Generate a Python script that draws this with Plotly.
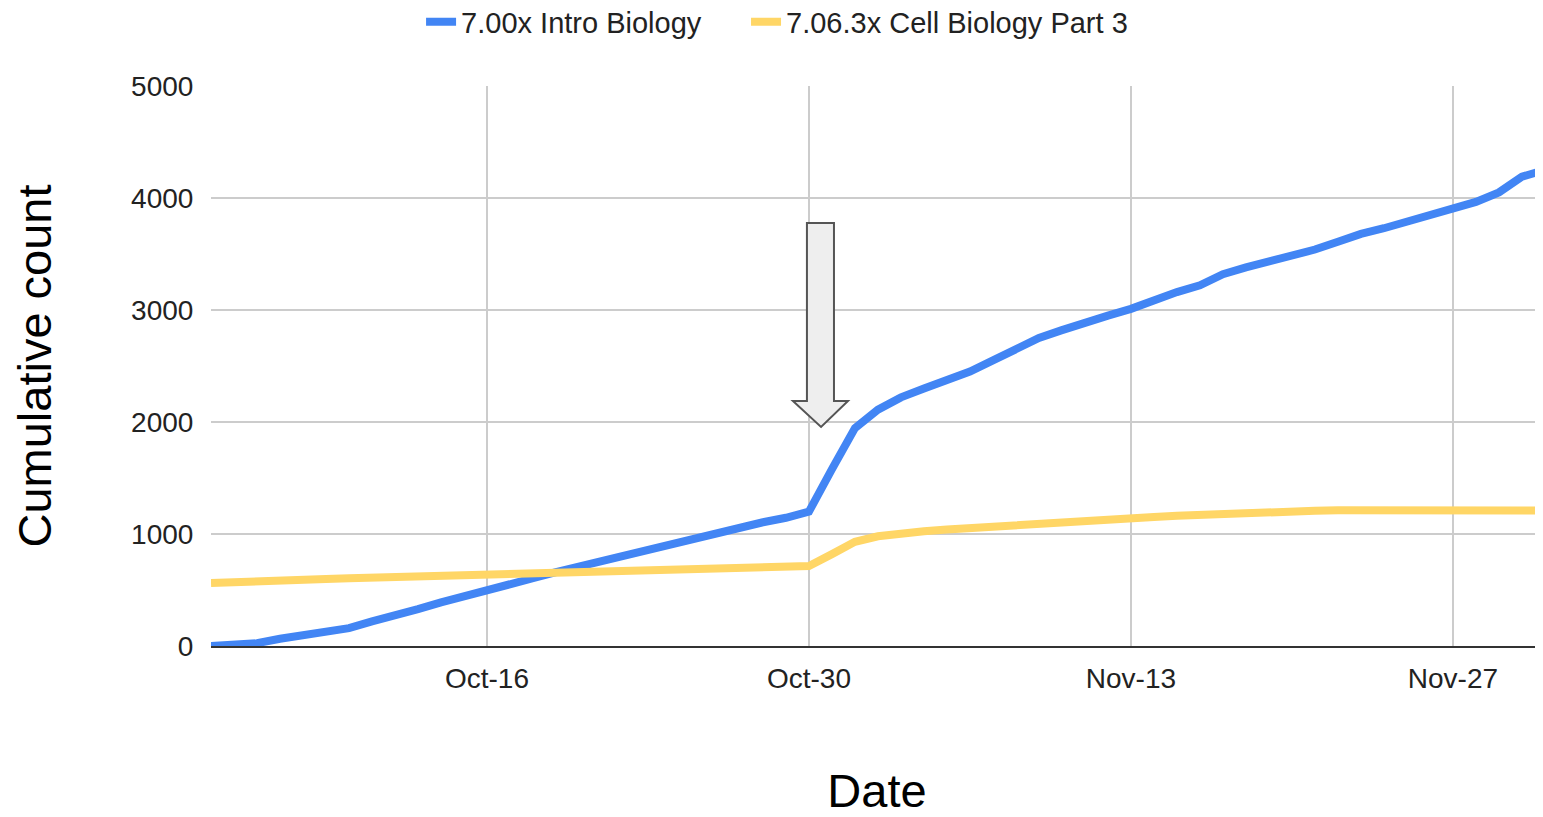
import pandas as pd
import plotly.graph_objects as go


# -------------------------------------------------------------------
# DATA (daily cumulative counts)
# -------------------------------------------------------------------

dates = pd.date_range("2020-10-04", "2020-12-01", freq="D")

intro_bio = [
    0, 5, 25, 65, 95, 130, 160, 220, 270, 330, 390, 440, 495,      # Oct 4-16
    550, 605, 660, 710, 760, 810, 855, 910, 965, 1015, 1055, 1105,  # Oct 17-28
    1145, 1200, 1580,                                               # Oct 29-31
    1945, 2110, 2220, 2300, 2375, 2450, 2550, 2650, 2750, 2820,     # Nov 1-10
    2890, 2950, 3010, 3090, 3160, 3220, 3320, 3380, 3430, 3480,     # Nov 11-20
    3540, 3610, 3680, 3730, 3790, 3840, 3900, 3965, 4050, 4190,     # Nov 21-30
    4250,                                                           # Dec 1
]

cell_bio_3 = [
    562, 572, 580, 587, 593, 599, 604, 609, 614, 619, 625, 630, 634,  # Oct 4-16
    640, 646, 652, 658, 663, 668, 673, 678, 684, 690, 696, 703,      # Oct 17-28
    708, 714, 820,                                                   # Oct 29-31
    930, 980, 1010, 1025, 1040, 1054, 1068, 1085, 1098, 1108,        # Nov 1-10
    1118, 1130, 1143, 1152, 1162, 1172, 1182, 1190, 1198, 1204,      # Nov 11-20
    1208, 1212, 1213, 1213, 1212, 1212, 1211, 1211, 1210, 1210,      # Nov 21-30
    1210,                                                            # Dec 1
]

series_names = ["7.00x Intro Biology", "7.06.3x Cell Biology Part 3"]
series_colors = ["#4285f4", "#ffd666"]

x_tick_vals = ["2020-10-16", "2020-10-30", "2020-11-13", "2020-11-27"]
x_tick_text = ["Oct-16", "Oct-30", "Nov-13", "Nov-27"]
y_tick_vals = [0, 1000, 2000, 3000, 4000, 5000]


# -------------------------------------------------------------------
# FIGURE
# -------------------------------------------------------------------

fig = go.Figure()

# one legend per series so the gap between the two entries can be set
legend_ids = ["legend", "legend2"]

for name, values, color, leg in zip(series_names, [intro_bio, cell_bio_3],
                                    series_colors, legend_ids):
    fig.add_trace(go.Scatter(
        x=dates,
        y=values,
        mode="lines",
        name=name,
        legend=leg,
        line=dict(color=color, width=8),
    ))

# block arrow pointing at the jump on Oct-30 (paper coords)
fig.add_shape(
    type="path",
    xref="paper", yref="paper",
    path=("M 0.4474 0.7554 L 0.4677 0.7554 L 0.4677 0.4375 L 0.4782 0.4375 "
          "L 0.4580 0.3911 L 0.4369 0.4375 L 0.4474 0.4375 Z"),
    fillcolor="#eeeeee",
    line=dict(color="#555555", width=2),
    layer="above",
)

legend_style = dict(
    orientation="h",
    xref="container", yref="container",
    xanchor="left",
    y=0.9827, yanchor="middle",
    font=dict(size=29, color="#222222"),
    itemwidth=30,
)

# page body has an 8px margin, so the figure is 8px smaller than the window
fig.update_layout(
    width=1535,
    height=809,
    paper_bgcolor="white",
    plot_bgcolor="white",
    font=dict(family="Liberation Sans, Arial, sans-serif", color="#222222", size=28),
    margin=dict(l=203, r=0, t=78, b=171),
    showlegend=True,
    legend=dict(x=0.2691, **legend_style),
    legend2=dict(x=0.4808, **legend_style),
)

fig.update_xaxes(
    range=["2020-10-04", "2020-11-30 22:00"],
    tickvals=x_tick_vals,
    ticktext=x_tick_text,
    ticks="outside",
    ticklen=6,
    tickcolor="rgba(0,0,0,0)",
    tickfont=dict(size=28),
    showgrid=True,
    gridcolor="#cccccc",
    gridwidth=2,
    showline=True,
    linecolor="#333333",
    linewidth=2,
    zeroline=False,
    automargin=False,
    title=dict(text="Date", font=dict(size=47, color="#000000"), standoff=95),
)

fig.update_yaxes(
    range=[0, 5000],
    tickvals=y_tick_vals,
    ticks="outside",
    ticklen=11,
    tickcolor="rgba(0,0,0,0)",
    tickfont=dict(size=28),
    showgrid=True,
    gridcolor="#cccccc",
    gridwidth=2,
    zeroline=False,
    showline=False,
    automargin=False,
    title=dict(text="Cumulative count", font=dict(size=47, color="#000000"), standoff=71),
)

fig.write_html("out.html")
